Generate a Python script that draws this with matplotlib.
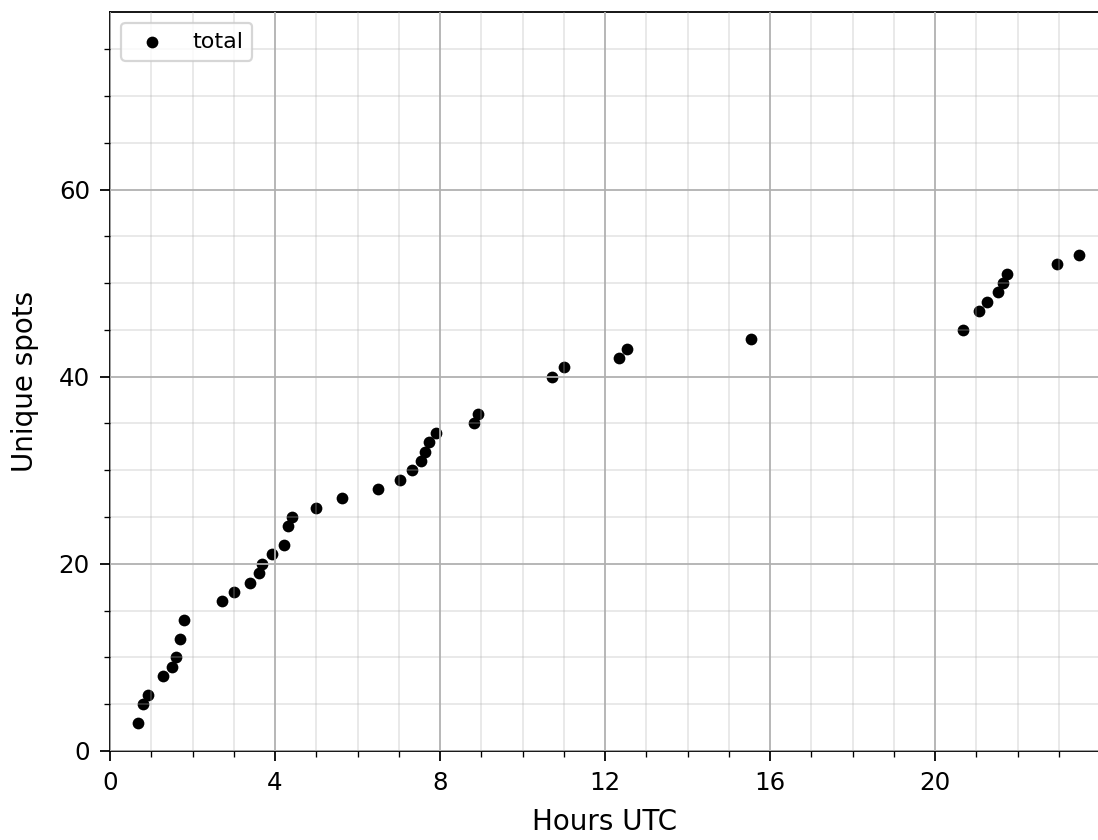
import matplotlib
matplotlib.use("Agg")
import matplotlib.pyplot as plt
from matplotlib.ticker import MultipleLocator

# hours UTC at which a new unique spot was seen
hours = [0.69, 0.81, 0.93, 1.29, 1.50, 1.60, 1.70, 1.80, 2.72, 3.01,
         3.39, 3.60, 3.68, 3.92, 4.22, 4.32, 4.41, 4.99, 5.63, 6.49,
         7.03, 7.33, 7.53, 7.64, 7.72, 7.90, 8.82, 8.93, 10.72, 11.01,
         12.33, 12.53, 15.54, 20.67, 21.06, 21.25, 21.53, 21.64, 21.74,
         22.95, 23.49]
# cumulative count of unique spots
spots = [3, 5, 6, 8, 9, 10, 12, 14, 16, 17,
         18, 19, 20, 21, 22, 24, 25, 26, 27, 28,
         29, 30, 31, 32, 33, 34, 35, 36, 40, 41,
         42, 43, 44, 45, 47, 48, 49, 50, 51,
         52, 53]

dpi = 160
fig = plt.figure(figsize=(1098 / dpi, 840 / dpi), dpi=dpi)
ax = fig.add_axes([110 / 1098, 89 / 840, 989 / 1098, 739.3 / 840])

ax.scatter(hours, spots, s=28, c="black", linewidths=0, label="total", zorder=1)

ax.set_xlim(0, 23.97)
ax.set_ylim(0, 79)
ax.xaxis.set_major_locator(MultipleLocator(4))
ax.xaxis.set_minor_locator(MultipleLocator(1))
ax.yaxis.set_major_locator(MultipleLocator(20))
ax.yaxis.set_minor_locator(MultipleLocator(5))
ax.spines["right"].set_visible(False)

# grid drawn over the points
ax.set_axisbelow(False)
ax.grid(which="major", color="#b0b0b0", linewidth=0.8)
ax.grid(which="minor", color="#b0b0b0", linewidth=0.8, alpha=0.3)

ax.tick_params(which="major", labelsize=11, length=4.5, pad=4.5)
ax.tick_params(which="minor", length=2.5)
ax.set_xlabel("Hours UTC", fontsize=12.5, labelpad=6)
ax.set_ylabel("Unique spots", fontsize=12.5, labelpad=9)
ax.legend(loc="upper left", fontsize=10)

fig.savefig("out.png", dpi=dpi)
